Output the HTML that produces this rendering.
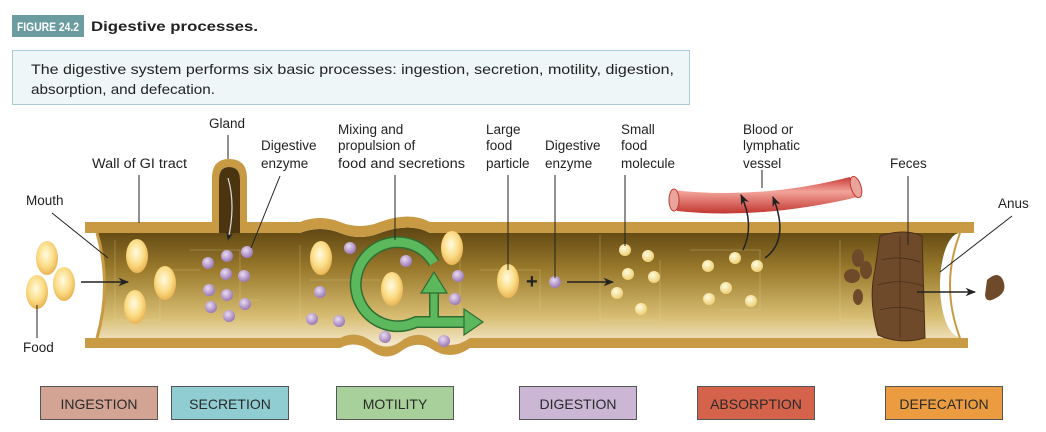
<!DOCTYPE html>
<html><head><meta charset="utf-8"><style>
body{margin:0;background:#fff;width:1046px;height:432px;overflow:hidden}
svg{display:block}
text{font-family:"Liberation Sans",Arial,sans-serif;font-size:13.5px;fill:#222}
.b{font-size:14px;fill:#2a2a2a}
</style></head><body>
<svg width="1046" height="432" viewBox="0 0 1046 432" xmlns="http://www.w3.org/2000/svg">
<defs>
<linearGradient id="tg" x1="0" y1="0" x2="0" y2="1">
<stop offset="0" stop-color="#5e4512"/><stop offset="0.35" stop-color="#9a7a2c"/><stop offset="0.75" stop-color="#d7bd72"/><stop offset="1" stop-color="#f6ead0"/></linearGradient>
<radialGradient id="fo" cx="0.45" cy="0.4" r="0.6"><stop offset="0" stop-color="#fffbe0"/><stop offset="0.6" stop-color="#fbdc86"/><stop offset="1" stop-color="#e9b455"/></radialGradient>
<radialGradient id="en" cx="0.4" cy="0.35" r="0.65"><stop offset="0" stop-color="#eadcf2"/><stop offset="1" stop-color="#9a78b5"/></radialGradient>
<radialGradient id="sm" cx="0.4" cy="0.35" r="0.65"><stop offset="0" stop-color="#fffbe2"/><stop offset="1" stop-color="#edd074"/></radialGradient>
<linearGradient id="vg" x1="0" y1="0" x2="0" y2="1"><stop offset="0" stop-color="#c93a35"/><stop offset="0.4" stop-color="#f2a39a"/><stop offset="1" stop-color="#c23730"/></linearGradient>
<marker id="ar" viewBox="0 0 10 10" refX="9" refY="5" markerWidth="7" markerHeight="7" orient="auto"><path d="M0,1 L10,5 L0,9 L3,5z" fill="#222"/></marker>
</defs>

<!-- header -->
<rect x="12" y="15" width="72" height="22" fill="#6b9c9f"/>
<text x="17" y="31" textLength="62" lengthAdjust="spacingAndGlyphs" style="font-weight:bold;font-size:12px;fill:#fff">FIGURE 24.2</text>
<text x="91" y="31" textLength="167" lengthAdjust="spacingAndGlyphs" style="font-weight:bold;font-size:14px;fill:#222">Digestive processes.</text>
<rect x="12.5" y="50.5" width="677" height="54" fill="#eef6f7" stroke="#a8cdd2"/>
<text x="31" y="74" textLength="643" lengthAdjust="spacingAndGlyphs" style="font-size:14px">The digestive system performs six basic processes: ingestion, secretion, motility, digestion,</text>
<text x="31" y="94" textLength="184" lengthAdjust="spacingAndGlyphs" style="font-size:14px">absorption, and defecation.</text>

<!-- tube interior -->
<path d="M97,233 L300,233 Q320,225 340,233 Q360,241 380,233 Q410,222 430,233 L974,233 L974,338 L470,338 Q450,352 430,338 Q415,330 400,342 Q385,352 370,340 Q355,330 340,338 L97,338 Q112,285 97,233z" fill="url(#tg)"/>
<g stroke="#e8d9a8" stroke-opacity="0.35" fill="none" stroke-width="0.8">
<path d="M115,240 V320 H160 V270 H200 M190,250 H240 V300 H260 M300,245 V320 H330 M310,280 H380 M460,250 V330 M480,270 H540 V310 M600,235 V320 H660 V260 M690,250 H760 V310 H720 M840,240 V320 H870"/>
</g>
<ellipse cx="960" cy="285" rx="20" ry="52" fill="#fff"/>
<rect x="960" y="230" width="30" height="112" fill="#fff"/>
<!-- walls -->
<path d="M85,222 L212,222 L212,178 Q212,159 229,159 Q247,159 247,178 L247,222 L300,222 Q320,214 340,222 Q360,230 380,222 Q410,211 430,222 L974,222 L974,233 L430,233 Q410,222 380,233 Q360,241 340,233 Q320,225 300,233 L240,233 L240,180 Q240,167 229,167 Q219,167 219,180 L219,233 L85,233z" fill="#c99a44"/>
<path d="M219,233 L219,180 Q219,167 229,167 Q240,167 240,180 L240,233z" fill="#4a3510"/>
<path d="M85,338 L340,338 Q355,330 370,340 Q385,352 400,342 Q415,330 430,338 Q450,352 470,338 L968,338 L968,348 L470,348 Q450,362 430,348 Q415,340 400,352 Q385,362 370,350 Q355,340 340,348 L85,348z" fill="#c99a44"/>
<path d="M97,233 Q112,285 97,338" fill="none" stroke="#c99a44" stroke-width="3"/>
<path d="M960,233 Q940,285 960,338" fill="none" stroke="#c99a44" stroke-width="2"/>

<path d="M228,178 Q236,205 228,240" fill="none" stroke="#ddd" stroke-width="1.2" marker-end="url(#ar)"/>

<!-- food ovals -->
<g fill="url(#fo)">
<ellipse cx="47" cy="258" rx="11" ry="17"/><ellipse cx="64" cy="284" rx="11" ry="17"/><ellipse cx="37" cy="292" rx="11" ry="17"/>
<ellipse cx="137" cy="256" rx="11" ry="17"/><ellipse cx="165" cy="283" rx="11" ry="17"/><ellipse cx="135" cy="307" rx="11" ry="17"/>
<ellipse cx="321" cy="258" rx="11" ry="17"/><ellipse cx="452" cy="248" rx="11" ry="17"/>
<ellipse cx="508" cy="281" rx="11" ry="17"/>
</g>
<!-- green motility arrow -->
<g fill="none" stroke-linejoin="round">
<path d="M434,263 A42,42 0 1 0 416,322 L468,322" stroke="#2f6d33" stroke-width="12"/>
<path d="M434,318 V292" stroke="#2f6d33" stroke-width="10"/>
<path d="M434,263 A42,42 0 1 0 416,322 L468,322" stroke="#5cb85c" stroke-width="9"/>
<path d="M434,320 V292" stroke="#5cb85c" stroke-width="7"/>
</g>
<path d="M464,309 L483,322 L464,335z" fill="#5cb85c" stroke="#2f6d33" stroke-width="1.2"/>
<path d="M421,293 L434,272 L447,293z" fill="#5cb85c" stroke="#2f6d33" stroke-width="1.2"/>
<ellipse cx="392" cy="289" rx="11" ry="17" fill="url(#fo)"/>
<!-- enzymes -->
<g fill="url(#en)">
<circle cx="247" cy="252" r="6"/><circle cx="227" cy="256" r="6"/><circle cx="208" cy="263" r="6"/><circle cx="226" cy="274" r="6"/><circle cx="244" cy="276" r="6"/><circle cx="209" cy="290" r="6"/><circle cx="227" cy="295" r="6"/><circle cx="245" cy="304" r="6"/><circle cx="211" cy="307" r="6"/><circle cx="229" cy="316" r="6"/>
<circle cx="350" cy="248" r="6"/><circle cx="406" cy="261" r="6"/><circle cx="458" cy="276" r="6"/><circle cx="320" cy="292" r="6"/><circle cx="455" cy="299" r="6"/><circle cx="312" cy="319" r="6"/><circle cx="339" cy="321" r="6"/><circle cx="385" cy="337" r="6"/><circle cx="444" cy="341" r="6"/>
<circle cx="555" cy="282" r="6"/>
</g>
<g fill="url(#sm)">
<circle cx="625" cy="250" r="6"/><circle cx="648" cy="256" r="6"/><circle cx="628" cy="274" r="6"/><circle cx="654" cy="277" r="6"/><circle cx="617" cy="293" r="6"/><circle cx="641" cy="309" r="6"/>
<circle cx="708" cy="266" r="6"/><circle cx="735" cy="258" r="6"/><circle cx="757" cy="266" r="6"/><circle cx="726" cy="288" r="6"/><circle cx="709" cy="299" r="6"/><circle cx="751" cy="301" r="6"/>
</g>

<text x="526" y="288" style="font-size:20px;font-weight:bold;fill:#222">+</text>
<line x1="567" y1="282" x2="613" y2="282" stroke="#222" stroke-width="1.5" marker-end="url(#ar)"/>
<line x1="81" y1="282" x2="128" y2="282" stroke="#222" stroke-width="1.5" marker-end="url(#ar)"/>

<!-- vessel -->
<path d="M672,190 Q760,200 850,177 L858,197 Q760,220 677,211z" fill="url(#vg)"/>
<ellipse cx="674" cy="200" rx="5" ry="11" fill="#e9a49b" stroke="#c23730"/>
<ellipse cx="856" cy="187" rx="5" ry="11" transform="rotate(-18 856 187)" fill="#e9a49b" stroke="#c23730"/>
<path d="M743,250 Q755,225 741,195" fill="none" stroke="#222" stroke-width="1.5" marker-end="url(#ar)"/>
<path d="M765,258 Q790,240 773,197" fill="none" stroke="#222" stroke-width="1.5" marker-end="url(#ar)"/>

<!-- feces -->
<path d="M880,236 Q905,228 922,236 L925,338 Q900,345 878,335 Q868,300 875,270z" fill="#6e4a2b" stroke="#4a2f18" stroke-width="1"/>
<g fill="#6e4a2b"><ellipse cx="858" cy="258" rx="6" ry="9"/><ellipse cx="852" cy="276" rx="8" ry="7"/><ellipse cx="858" cy="297" rx="5" ry="8"/><ellipse cx="866" cy="270" rx="6" ry="9"/></g>
<g stroke="#4a2f18" fill="none" stroke-width="0.8"><path d="M882,260 Q900,255 920,262 M878,285 Q900,278 924,286 M880,310 Q900,304 924,312 M900,236 V338"/></g>
<line x1="917" y1="292" x2="975" y2="292" stroke="#222" stroke-width="1.5" marker-end="url(#ar)"/>
<path d="M987,280 Q998,270 1003,280 Q1008,292 996,298 Q986,304 985,295z" fill="#6e4a2b"/>

<g stroke="#222" stroke-width="1" fill="none">
<line x1="228" y1="135" x2="228" y2="159"/>
<line x1="139" y1="175" x2="139" y2="223"/>
<line x1="52" y1="213" x2="108" y2="258"/>
<line x1="37" y1="305" x2="37" y2="338"/>
<line x1="280" y1="176" x2="251" y2="248"/>
<line x1="395" y1="175" x2="395" y2="240"/>
<line x1="508" y1="175" x2="508" y2="270"/>
<line x1="555" y1="175" x2="555" y2="278"/>
<line x1="625" y1="175" x2="625" y2="246"/>
<line x1="762" y1="170" x2="762" y2="188"/>
<line x1="908" y1="176" x2="908" y2="245"/>
<line x1="1012" y1="216" x2="940" y2="272"/>
</g>
<text x="209" y="128">Gland</text>
<text x="92" y="168" textLength="95" lengthAdjust="spacingAndGlyphs">Wall of GI tract</text>
<text x="26" y="205">Mouth</text>
<text x="23" y="352">Food</text>
<text x="261" y="150">Digestive</text><text x="261" y="168">enzyme</text>
<text x="338" y="134">Mixing and</text><text x="338" y="150">propulsion of</text><text x="338" y="168" textLength="127" lengthAdjust="spacingAndGlyphs">food and secretions</text>
<text x="486" y="134">Large</text><text x="486" y="150">food</text><text x="486" y="168">particle</text>
<text x="545" y="150">Digestive</text><text x="545" y="168">enzyme</text>
<text x="621" y="134">Small</text><text x="621" y="150">food</text><text x="621" y="168">molecule</text>
<text x="743" y="134">Blood or</text><text x="743" y="150">lymphatic</text><text x="743" y="168">vessel</text>
<text x="890" y="168">Feces</text>
<text x="998" y="208">Anus</text>

<g stroke="#555" stroke-width="1">
<rect x="40.5" y="386.5" width="117" height="33" fill="#d3a393"/>
<rect x="171.5" y="386.5" width="117" height="33" fill="#8fcdd2"/>
<rect x="336.5" y="386.5" width="117" height="33" fill="#a8d09a"/>
<rect x="519.5" y="386.5" width="117" height="33" fill="#cbb6d6"/>
<rect x="697.5" y="386.5" width="117" height="33" fill="#d5634b"/>
<rect x="885.5" y="386.5" width="117" height="33" fill="#ec9c40"/>
</g>
<g text-anchor="middle">
<text class="b" x="99" y="409">INGESTION</text>
<text class="b" x="230" y="409">SECRETION</text>
<text class="b" x="395" y="409">MOTILITY</text>
<text class="b" x="578" y="409">DIGESTION</text>
<text class="b" x="756" y="409">ABSORPTION</text>
<text class="b" x="944" y="409">DEFECATION</text>
</g>
</svg>
</body></html>
